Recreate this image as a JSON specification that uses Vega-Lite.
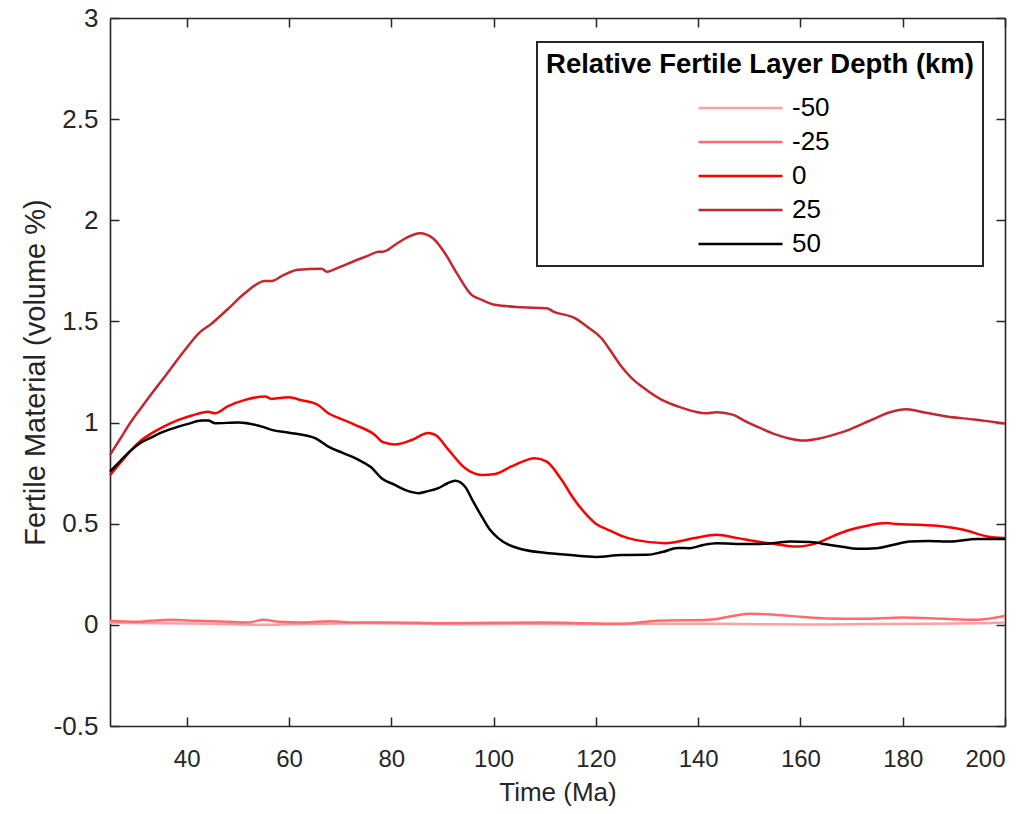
{
  "$schema": "https://vega.github.io/schema/vega-lite/v6.json",
  "width": 895,
  "height": 708,
  "autosize": {"type": "none"},
  "padding": {"left": 110, "top": 18, "right": 28, "bottom": 88},
  "background": "white",
  "config": {
    "view": {"stroke": null},
    "font": "Liberation Sans",
    "axis": {
      "domainColor": "#262626", "domainWidth": 1.6,
      "tickColor": "#262626", "tickWidth": 1.5, "tickSize": -9,
      "labelColor": "#262626", "titleColor": "#262626",
      "grid": false, "titleFontWeight": "normal"
    },
    "legend": {"strokeWidth": 2}
  },
  "data": {"values": [
    {"d":"-50","t":25,"v":0.01},{"d":"-50","t":35,"v":0.008},{"d":"-50","t":45,"v":0.005},{"d":"-50","t":55,"v":0.0},{"d":"-50","t":65,"v":0.005},{"d":"-50","t":75,"v":0.008},{"d":"-50","t":85,"v":0.005},{"d":"-50","t":95,"v":0.003},{"d":"-50","t":105,"v":0.005},{"d":"-50","t":115,"v":0.003},{"d":"-50","t":125,"v":0.004},{"d":"-50","t":135,"v":0.006},{"d":"-50","t":145,"v":0.005},{"d":"-50","t":155,"v":0.003},{"d":"-50","t":165,"v":0.002},{"d":"-50","t":175,"v":0.004},{"d":"-50","t":185,"v":0.006},{"d":"-50","t":195,"v":0.008},{"d":"-50","t":200,"v":0.012},
    {"d":"-25","t":25,"v":0.02},{"d":"-25","t":30,"v":0.015},{"d":"-25","t":33,"v":0.02},{"d":"-25","t":37,"v":0.025},{"d":"-25","t":42,"v":0.02},{"d":"-25","t":48,"v":0.015},{"d":"-25","t":52,"v":0.012},{"d":"-25","t":55,"v":0.025},{"d":"-25","t":58,"v":0.015},{"d":"-25","t":63,"v":0.012},{"d":"-25","t":68,"v":0.018},{"d":"-25","t":72,"v":0.012},{"d":"-25","t":80,"v":0.012},{"d":"-25","t":90,"v":0.008},{"d":"-25","t":100,"v":0.01},{"d":"-25","t":110,"v":0.012},{"d":"-25","t":118,"v":0.008},{"d":"-25","t":125,"v":0.005},{"d":"-25","t":132,"v":0.02},{"d":"-25","t":142,"v":0.025},{"d":"-25","t":147,"v":0.045},{"d":"-25","t":150,"v":0.055},{"d":"-25","t":155,"v":0.05},{"d":"-25","t":160,"v":0.04},{"d":"-25","t":165,"v":0.032},{"d":"-25","t":172,"v":0.03},{"d":"-25","t":180,"v":0.036},{"d":"-25","t":188,"v":0.03},{"d":"-25","t":194,"v":0.025},{"d":"-25","t":198,"v":0.035},{"d":"-25","t":200,"v":0.045},
    {"d":"0","t":25,"v":0.74},{"d":"0","t":27,"v":0.8},{"d":"0","t":29,"v":0.86},{"d":"0","t":31,"v":0.91},{"d":"0","t":33.2,"v":0.948},{"d":"0","t":35.5,"v":0.98},{"d":"0","t":38.4,"v":1.013},{"d":"0","t":41,"v":1.035},{"d":"0","t":44.2,"v":1.054},{"d":"0","t":45.5,"v":1.046},{"d":"0","t":48,"v":1.08},{"d":"0","t":51.4,"v":1.112},{"d":"0","t":55.3,"v":1.129},{"d":"0","t":56.6,"v":1.117},{"d":"0","t":59.9,"v":1.125},{"d":"0","t":62.5,"v":1.11},{"d":"0","t":65.7,"v":1.087},{"d":"0","t":67.7,"v":1.046},{"d":"0","t":70,"v":1.02},{"d":"0","t":72.9,"v":0.989},{"d":"0","t":76.8,"v":0.939},{"d":"0","t":78.4,"v":0.903},{"d":"0","t":80.7,"v":0.892},{"d":"0","t":84,"v":0.914},{"d":"0","t":87.2,"v":0.948},{"d":"0","t":88.6,"v":0.939},{"d":"0","t":91.2,"v":0.865},{"d":"0","t":94.4,"v":0.775},{"d":"0","t":97.7,"v":0.741},{"d":"0","t":100.3,"v":0.746},{"d":"0","t":103.5,"v":0.783},{"d":"0","t":108.1,"v":0.824},{"d":"0","t":110.4,"v":0.807},{"d":"0","t":113.3,"v":0.717},{"d":"0","t":115.5,"v":0.63},{"d":"0","t":117.9,"v":0.552},{"d":"0","t":120,"v":0.5},{"d":"0","t":122.4,"v":0.47},{"d":"0","t":125,"v":0.44},{"d":"0","t":127.7,"v":0.42},{"d":"0","t":133.5,"v":0.404},{"d":"0","t":139.4,"v":0.429},{"d":"0","t":143.6,"v":0.445},{"d":"0","t":147.5,"v":0.43},{"d":"0","t":151.5,"v":0.412},{"d":"0","t":155,"v":0.4},{"d":"0","t":159.3,"v":0.387},{"d":"0","t":163.2,"v":0.404},{"d":"0","t":166.5,"v":0.44},{"d":"0","t":169.7,"v":0.47},{"d":"0","t":173,"v":0.49},{"d":"0","t":176.9,"v":0.503},{"d":"0","t":178.8,"v":0.498},{"d":"0","t":183,"v":0.495},{"d":"0","t":188,"v":0.486},{"d":"0","t":191.9,"v":0.47},{"d":"0","t":196.5,"v":0.437},{"d":"0","t":200,"v":0.429},
    {"d":"25","t":25,"v":0.84},{"d":"25","t":27,"v":0.92},{"d":"25","t":29,"v":1.0},{"d":"25","t":31,"v":1.07},{"d":"25","t":33.2,"v":1.145},{"d":"25","t":35.5,"v":1.22},{"d":"25","t":37.7,"v":1.295},{"d":"25","t":40,"v":1.37},{"d":"25","t":42.3,"v":1.44},{"d":"25","t":44.9,"v":1.49},{"d":"25","t":48,"v":1.56},{"d":"25","t":51.4,"v":1.64},{"d":"25","t":55.3,"v":1.7},{"d":"25","t":56.6,"v":1.7},{"d":"25","t":59,"v":1.73},{"d":"25","t":61.8,"v":1.755},{"d":"25","t":66.4,"v":1.76},{"d":"25","t":67.4,"v":1.746},{"d":"25","t":70,"v":1.77},{"d":"25","t":72.9,"v":1.8},{"d":"25","t":75.5,"v":1.825},{"d":"25","t":77.5,"v":1.845},{"d":"25","t":78.4,"v":1.845},{"d":"25","t":80.7,"v":1.878},{"d":"25","t":82.7,"v":1.91},{"d":"25","t":85.6,"v":1.936},{"d":"25","t":88.2,"v":1.91},{"d":"25","t":90.5,"v":1.837},{"d":"25","t":92.8,"v":1.739},{"d":"25","t":95.7,"v":1.631},{"d":"25","t":97.7,"v":1.607},{"d":"25","t":100.3,"v":1.582},{"d":"25","t":105.5,"v":1.57},{"d":"25","t":110.4,"v":1.565},{"d":"25","t":111.7,"v":1.549},{"d":"25","t":115.9,"v":1.516},{"d":"25","t":118.5,"v":1.47},{"d":"25","t":121.1,"v":1.417},{"d":"25","t":123,"v":1.35},{"d":"25","t":125,"v":1.277},{"d":"25","t":127,"v":1.22},{"d":"25","t":129,"v":1.178},{"d":"25","t":132.9,"v":1.112},{"d":"25","t":136,"v":1.08},{"d":"25","t":139.4,"v":1.054},{"d":"25","t":141.7,"v":1.046},{"d":"25","t":143.6,"v":1.051},{"d":"25","t":146.9,"v":1.038},{"d":"25","t":149,"v":1.01},{"d":"25","t":151.5,"v":0.98},{"d":"25","t":155.4,"v":0.939},{"d":"25","t":158,"v":0.92},{"d":"25","t":160.6,"v":0.911},{"d":"25","t":163.5,"v":0.92},{"d":"25","t":166.4,"v":0.939},{"d":"25","t":169,"v":0.96},{"d":"25","t":171.7,"v":0.989},{"d":"25","t":174.5,"v":1.02},{"d":"25","t":176.9,"v":1.046},{"d":"25","t":180.8,"v":1.066},{"d":"25","t":184,"v":1.051},{"d":"25","t":188.6,"v":1.03},{"d":"25","t":194,"v":1.015},{"d":"25","t":200,"v":0.995},
    {"d":"50","t":25,"v":0.758},{"d":"50","t":27,"v":0.81},{"d":"50","t":29,"v":0.86},{"d":"50","t":31,"v":0.9},{"d":"50","t":33.2,"v":0.928},{"d":"50","t":35.5,"v":0.955},{"d":"50","t":38.4,"v":0.98},{"d":"50","t":40.5,"v":0.995},{"d":"50","t":42.9,"v":1.01},{"d":"50","t":44.2,"v":1.01},{"d":"50","t":45.5,"v":0.997},{"d":"50","t":50.1,"v":1.0},{"d":"50","t":54.7,"v":0.98},{"d":"50","t":56.6,"v":0.964},{"d":"50","t":60,"v":0.95},{"d":"50","t":65.1,"v":0.923},{"d":"50","t":67.7,"v":0.881},{"d":"50","t":70.5,"v":0.85},{"d":"50","t":73.6,"v":0.816},{"d":"50","t":76,"v":0.78},{"d":"50","t":78.1,"v":0.725},{"d":"50","t":80.7,"v":0.692},{"d":"50","t":82.7,"v":0.667},{"d":"50","t":85.3,"v":0.651},{"d":"50","t":87,"v":0.66},{"d":"50","t":89.2,"v":0.676},{"d":"50","t":91,"v":0.7},{"d":"50","t":92.5,"v":0.712},{"d":"50","t":94.4,"v":0.684},{"d":"50","t":96,"v":0.61},{"d":"50","t":97.7,"v":0.535},{"d":"50","t":99.3,"v":0.47},{"d":"50","t":100.9,"v":0.429},{"d":"50","t":103,"v":0.395},{"d":"50","t":105.5,"v":0.374},{"d":"50","t":110,"v":0.356},{"d":"50","t":115,"v":0.345},{"d":"50","t":120,"v":0.336},{"d":"50","t":125,"v":0.345},{"d":"50","t":130,"v":0.346},{"d":"50","t":133,"v":0.36},{"d":"50","t":136,"v":0.38},{"d":"50","t":138.4,"v":0.379},{"d":"50","t":141,"v":0.395},{"d":"50","t":143.6,"v":0.404},{"d":"50","t":147.5,"v":0.4},{"d":"50","t":151.5,"v":0.4},{"d":"50","t":155,"v":0.405},{"d":"50","t":158,"v":0.412},{"d":"50","t":161.9,"v":0.409},{"d":"50","t":165.8,"v":0.395},{"d":"50","t":168.5,"v":0.385},{"d":"50","t":171,"v":0.376},{"d":"50","t":174.9,"v":0.379},{"d":"50","t":178,"v":0.395},{"d":"50","t":181.4,"v":0.412},{"d":"50","t":185,"v":0.415},{"d":"50","t":189.3,"v":0.412},{"d":"50","t":194.5,"v":0.424},{"d":"50","t":200,"v":0.424}
  ]},
  "layer": [
    {
      "mark": {"type": "line", "strokeWidth": 2.5, "interpolate": "monotone"},
      "encoding": {
        "x": {"field": "t", "type": "quantitative",
          "scale": {"domain": [25, 200], "nice": false, "zero": false},
          "axis": {"orient": "bottom", "values": [40,60,80,100,120,140,160,180,200],
            "title": "Time (Ma)", "labelFontSize": 24, "titleFontSize": 26,
            "labelPadding": 30, "titlePadding": 8}},
        "y": {"field": "v", "type": "quantitative",
          "scale": {"domain": [-0.5, 3], "nice": false, "zero": false},
          "axis": {"orient": "left", "values": [-0.5,0,0.5,1,1.5,2,2.5,3], "labelExpr": "datum.value + ''",
            "title": "Fertile Material (volume %)", "labelFontSize": 26, "titleFontSize": 29,
            "labelPadding": 21, "titlePadding": 3}},
        "color": {"field": "d", "type": "nominal",
          "scale": {"domain": ["-50","-25","0","25","50"], "range": ["#ff9fa4","#ff6b6b","#ff0000","#c8262f","#000000"]},
          "legend": {"orient": "none", "legendX": 427, "legendY": 24,
            "title": "Relative Fertile Layer Depth (km)", "titleFontSize": 27.5, "titleFontWeight": "bold",
            "titleColor": "black", "titleAnchor": "middle", "titlePadding": 14, "titleLimit": 800,
            "labelFontSize": 26, "labelColor": "black",
            "strokeColor": "#262626", "fillColor": "white", "padding": 9,
            "symbolType": "M-3,0H3", "symbolSize": 784, "symbolStrokeWidth": 2.5,
            "symbolOffset": 34, "labelOffset": 36, "rowPadding": 5}}
      }
    },
    {
      "mark": {"type": "line", "strokeOpacity": 0},
      "encoding": {
        "x": {"field": "t", "type": "quantitative",
          "axis": {"orient": "top", "values": [40,60,80,100,120,140,160,180,200], "labels": false, "title": null}},
        "y": {"field": "v", "type": "quantitative",
          "axis": {"orient": "right", "values": [-0.5,0,0.5,1,1.5,2,2.5,3], "labels": false, "title": null}},
        "detail": {"field": "d"}
      }
    }
  ],
  "resolve": {"axis": {"x": "independent", "y": "independent"}}
}
